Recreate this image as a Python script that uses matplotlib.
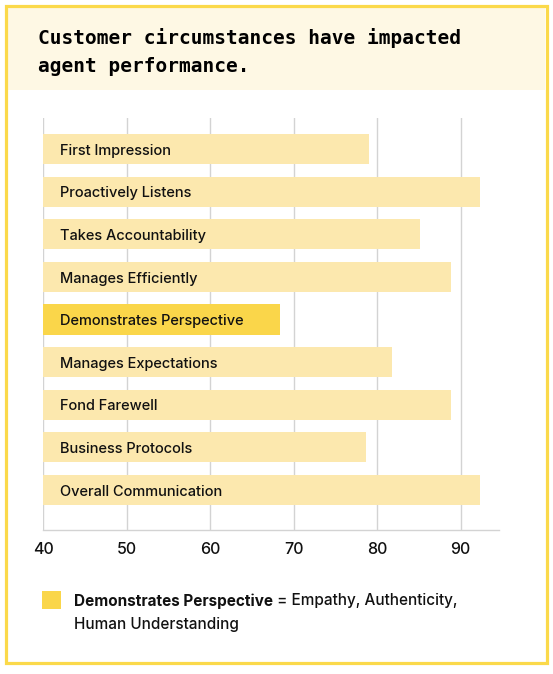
import matplotlib
matplotlib.use('Agg')
import matplotlib.pyplot as plt
from matplotlib.patches import Rectangle

categories = ['First Impression', 'Proactively Listens', 'Takes Accountability',
              'Manages Efficiently', 'Demonstrates Perspective', 'Manages Expectations',
              'Fond Farewell', 'Business Protocols', 'Overall Communication']
scores = [79.0, 92.3, 85.1, 88.8, 68.4, 81.8, 88.8, 78.7, 92.3]
highlight = 'Demonstrates Perspective'
ticks = [40, 50, 60, 70, 80, 90]

W, H = 553, 674
light = '#FCE8AE'
strong = '#FAD64A'
body_font = 'Inter'

fig = plt.figure(figsize=(W / 100, H / 100), dpi=100)


def fx(px):
    return px / W


def fy(py):
    return 1 - py / H


# frame and title band
fig.patches.append(Rectangle((fx(7), fy(90)), fx(538), 82 / H, transform=fig.transFigure,
                             facecolor='#FEF8E4', edgecolor='none', zorder=0))
fig.patches.append(Rectangle((fx(5.5), fy(663)), fx(541), 657.5 / H, transform=fig.transFigure,
                             facecolor='none', edgecolor='#FBD94A', linewidth=2.3, zorder=1))

fig.text(fx(38), fy(38), 'Customer circumstances have impacted', fontsize=14,
         family='DejaVu Sans Mono', weight='bold', va='center', ha='left')
fig.text(fx(38), fy(67), 'agent performance.', fontsize=14,
         family='DejaVu Sans Mono', weight='bold', va='center', ha='left')

ax = fig.add_axes([fx(43), fy(530), fx(456), 412 / H])
y = list(range(len(categories)))
colors = [strong if c == highlight else light for c in categories]
ax.barh(y, [s - 40 for s in scores], left=40, height=0.71, color=colors, zorder=2)
for yi, c in zip(y, categories):
    ax.text(42, yi + 0.04, c, va='center', ha='left', fontsize=10.5, family=body_font,
            weight=500, color='#111111', zorder=3)

ax.set_xlim(40, 94.6)
ax.set_ylim(len(categories) - 1 + 0.94, -0.73)
ax.set_xticks(ticks)
ax.set_yticks([])
ax.grid(axis='x', color='#D3D3D3', linewidth=1, zorder=0)
ax.set_axisbelow(True)
for s in ['top', 'right', 'left']:
    ax.spines[s].set_visible(False)
ax.spines['bottom'].set_color('#D3D3D3')
ax.spines['bottom'].set_linewidth(1)
ax.tick_params(axis='x', length=0, pad=9, labelsize=11.5, labelcolor='#111111')
for lab in ax.get_xticklabels():
    lab.set_family(body_font)
    lab.set_weight(500)

# legend note
fig.patches.append(Rectangle((fx(42), fy(609)), fx(19), 18.5 / H, transform=fig.transFigure,
                             facecolor=strong, edgecolor='none'))
t1 = fig.text(fx(74), fy(601), 'Demonstrates Perspective', fontsize=11, family=body_font,
              weight='bold', va='center', ha='left', color='#111111')
fig.canvas.draw()
bb = t1.get_window_extent()
fig.text(bb.x1 / W, fy(601), ' = Empathy, Authenticity,', fontsize=11, family=body_font,
         weight=500, va='center', ha='left', color='#111111')
fig.text(fx(74), fy(625), 'Human Understanding', fontsize=11, family=body_font,
         weight=500, va='center', ha='left', color='#111111')

fig.savefig('out.png', dpi=100)
